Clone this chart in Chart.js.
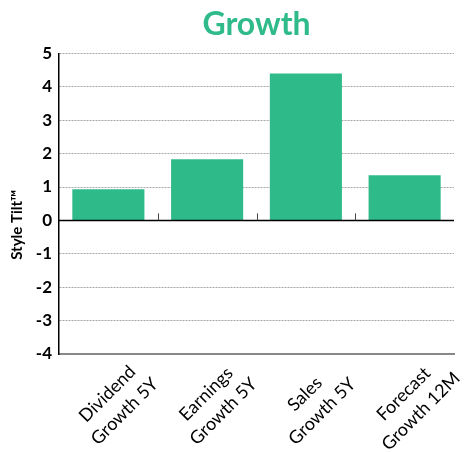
<!DOCTYPE html>
<html>
<head>
<meta charset="utf-8">
<script src="https://cdn.jsdelivr.net/npm/chart.js@4.4.1/dist/chart.umd.min.js"></script>
<style>
  html, body { margin: 0; padding: 0; background: #ffffff; }
  #wrap { width: 465px; height: 452px; position: relative; }
</style>
</head>
<body>
<div id="wrap"><canvas id="chart"></canvas></div>
<script>
// Style tilt factors shown as bars
const categories = [
  ['Dividend', 'Growth 5Y'],
  ['Earnings', 'Growth 5Y'],
  ['Sales', 'Growth 5Y'],
  ['Forecast', 'Growth 12M']
];
const styleTilt = [0.93, 1.83, 4.40, 1.35];
const yMin = -4;
const yMax = 5;
const yStep = 1;
const yTitle = 'Style Tilt™';

const GREEN = '#2fba8a';

// Solid zero line plus short tick marks between categories
const zeroLinePlugin = {
  id: 'zeroLine',
  afterDatasetsDraw(chart) {
    const { ctx, chartArea, scales } = chart;
    const y0 = scales.y.getPixelForValue(0);
    ctx.save();
    ctx.strokeStyle = '#000000';
    ctx.lineWidth = 1.5;
    ctx.beginPath();
    ctx.moveTo(chartArea.left, y0);
    ctx.lineTo(chartArea.right, y0);
    ctx.stroke();
    const x = scales.x;
    ctx.strokeStyle = '#444444';
    ctx.lineWidth = 1;
    for (let i = 1; i < categories.length; i++) {
      const bx = Math.round((x.getPixelForTick(i - 1) + x.getPixelForTick(i)) / 2) + 0.5;
      ctx.beginPath();
      ctx.moveTo(bx, y0 - 7);
      ctx.lineTo(bx, y0);
      ctx.stroke();
    }
    ctx.restore();
  }
};

// Category labels at 45 degrees, each line centred on the others,
// and the vertical axis title set a little below the axis middle
const axisTextPlugin = {
  id: 'axisText',
  afterDraw(chart) {
    const { ctx, chartArea } = chart;
    const xs = chart.scales.x;
    const labels = xs.getLabels();
    const lineGap = 24.5;
    ctx.save();
    ctx.fillStyle = '#000000';
    ctx.font = '18px Lato';
    ctx.textAlign = 'center';
    ctx.textBaseline = 'middle';
    labels.forEach((lines, i) => {
      const px = xs.getPixelForTick(i);
      ctx.save();
      ctx.translate(px - 1, xs.top + 40);
      ctx.rotate(-Math.PI / 4);
      [].concat(lines).forEach((t, k) => ctx.fillText(t, 0, k * lineGap));
      ctx.restore();
    });

    ctx.font = 'bold 15px Lato';
    ctx.translate(17, (chartArea.top + chartArea.bottom) / 2 + 21);
    ctx.rotate(-Math.PI / 2);
    ctx.fillText(yTitle, 0, 0);
    ctx.restore();
  }
};

new Chart(document.getElementById('chart'), {
  type: 'bar',
  data: {
    labels: categories,
    datasets: [{
      data: styleTilt,
      backgroundColor: GREEN,
      borderWidth: 0,
      categoryPercentage: 1.0,
      barPercentage: 0.73
    }]
  },
  options: {
    responsive: true,
    maintainAspectRatio: false,
    animation: false,
    layout: { padding: { left: 0, right: 11, top: 0, bottom: 0 } },
    plugins: {
      legend: { display: false },
      tooltip: { enabled: false },
      title: {
        display: true,
        fullSize: false,
        text: 'Growth',
        color: GREEN,
        font: { family: 'Lato', size: 32, weight: 'bold', lineHeight: 1.2 },
        padding: { top: 5, bottom: 10 }
      }
    },
    scales: {
      x: {
        grid: { display: false, drawTicks: false },
        border: { display: true, color: '#888888', width: 2 },
        ticks: { display: false, autoSkip: false },
        afterFit(scale) { scale.height = 98; }
      },
      y: {
        min: yMin,
        max: yMax,
        grid: {
          color: (c) => (c.tick && c.tick.value === yMin) ? 'rgba(0,0,0,0)' : '#a8a8a8',
          lineWidth: 1,
          drawTicks: false
        },
        border: { display: true, color: '#000000', width: 1.5, dash: [2, 1] },
        ticks: {
          stepSize: yStep,
          color: '#000000',
          font: { family: 'Lato', size: 17, weight: 'bold' },
          padding: 7
        },
        title: { display: false },
        afterFit(scale) { scale.width = 59; }
      }
    }
  },
  plugins: [zeroLinePlugin, axisTextPlugin]
});
</script>
</body>
</html>
